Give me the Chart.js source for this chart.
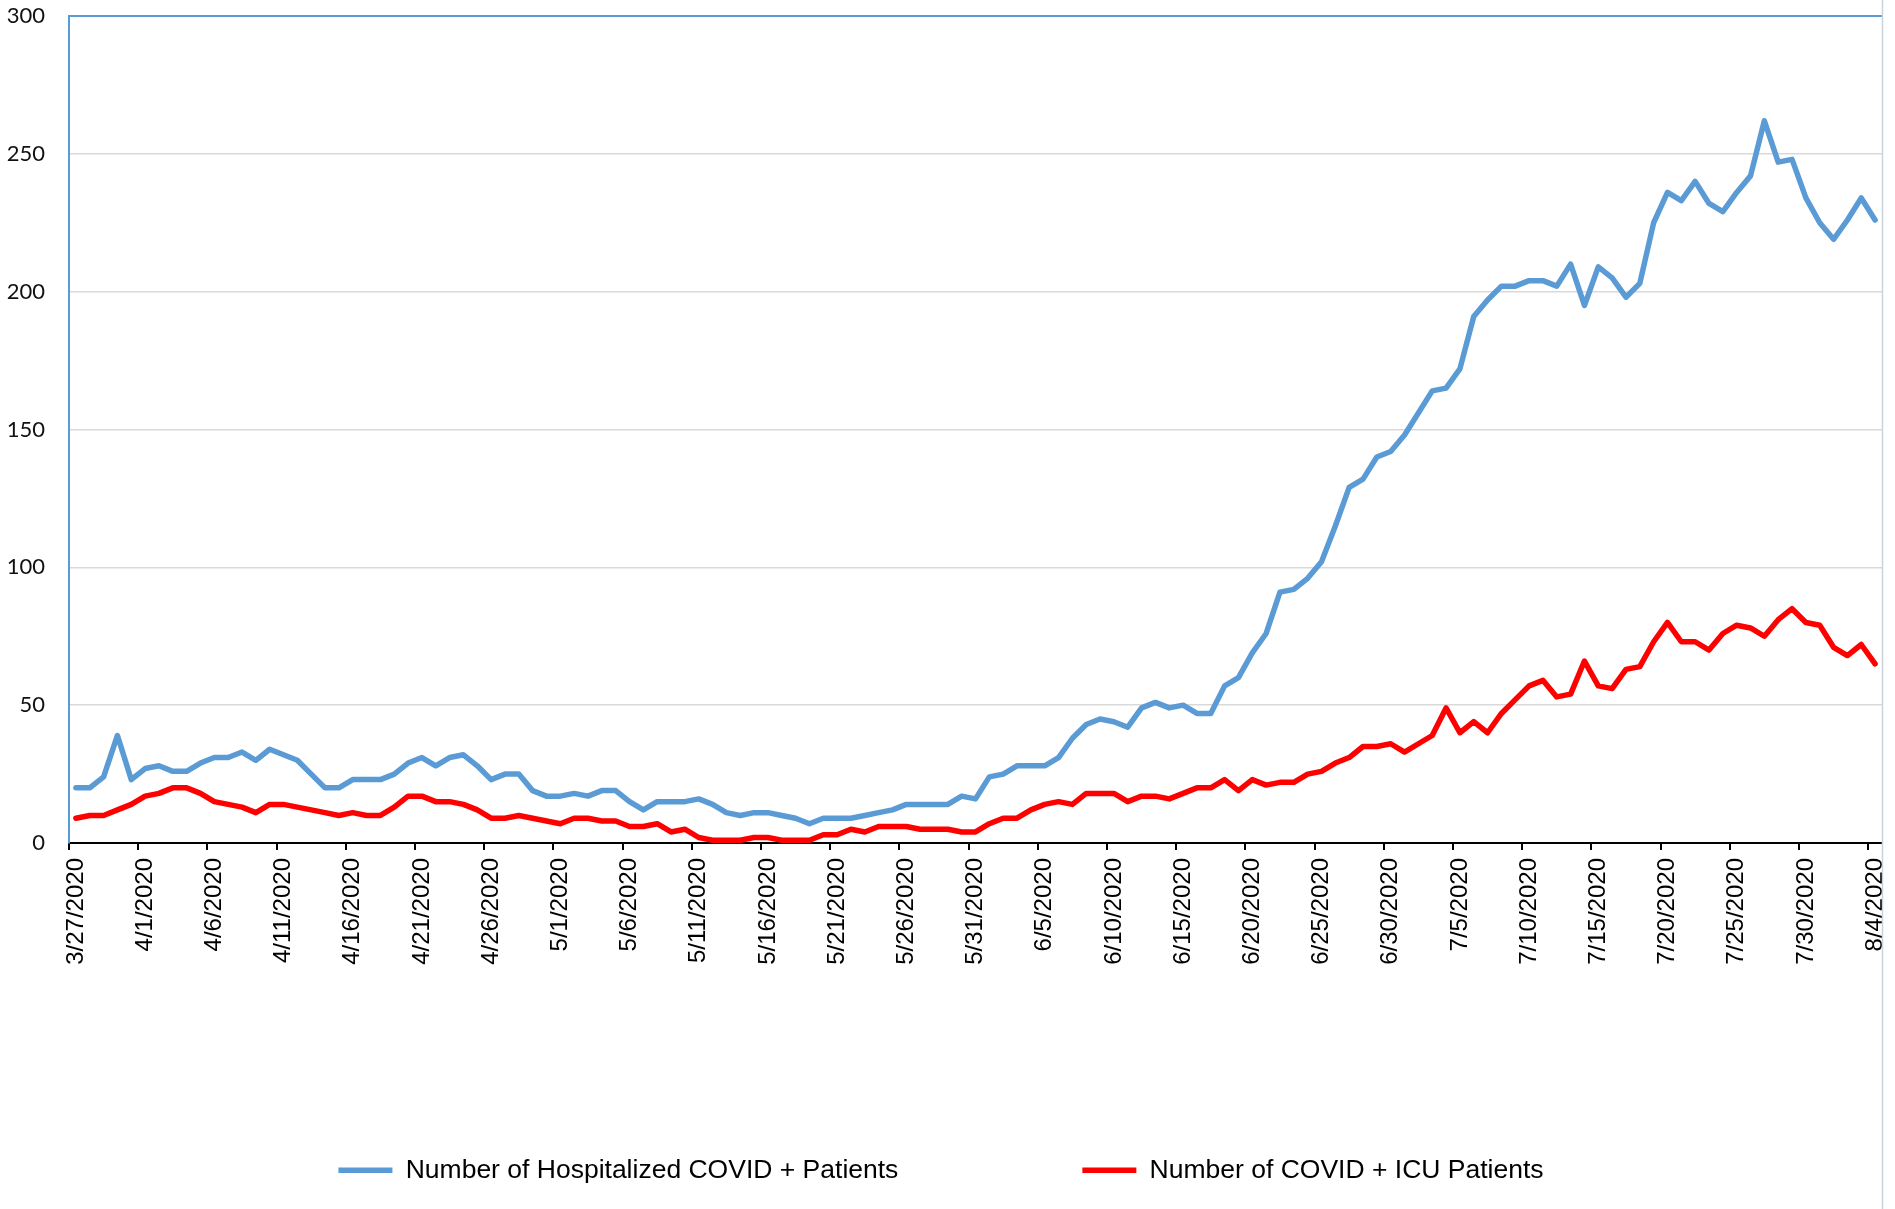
<!DOCTYPE html>
<html>
<head>
<meta charset="utf-8">
<title>COVID + patients</title>
<script src="https://cdn.jsdelivr.net/npm/chart.js@4.4.1/dist/chart.umd.min.js"></script>
<style>
  html, body { margin: 0; padding: 0; background: #fff; }
  #wrap { width: 1895px; height: 1209px; }
</style>
</head>
<body>
<div id="wrap"><canvas id="chart" width="1895" height="1209"></canvas></div>
<script>
// dias (categorias)
const dates = [
  '3/27/2020','3/28/2020','3/29/2020','3/30/2020','3/31/2020',
  '4/1/2020','4/2/2020','4/3/2020','4/4/2020','4/5/2020','4/6/2020','4/7/2020','4/8/2020','4/9/2020','4/10/2020',
  '4/11/2020','4/12/2020','4/13/2020','4/14/2020','4/15/2020','4/16/2020','4/17/2020','4/18/2020','4/19/2020','4/20/2020',
  '4/21/2020','4/22/2020','4/23/2020','4/24/2020','4/25/2020','4/26/2020','4/27/2020','4/28/2020','4/29/2020','4/30/2020',
  '5/1/2020','5/2/2020','5/3/2020','5/4/2020','5/5/2020','5/6/2020','5/7/2020','5/8/2020','5/9/2020','5/10/2020',
  '5/11/2020','5/12/2020','5/13/2020','5/14/2020','5/15/2020','5/16/2020','5/17/2020','5/18/2020','5/19/2020','5/20/2020',
  '5/21/2020','5/22/2020','5/23/2020','5/24/2020','5/25/2020','5/26/2020','5/27/2020','5/28/2020','5/29/2020','5/30/2020','5/31/2020',
  '6/1/2020','6/2/2020','6/3/2020','6/4/2020','6/5/2020','6/6/2020','6/7/2020','6/8/2020','6/9/2020','6/10/2020',
  '6/11/2020','6/12/2020','6/13/2020','6/14/2020','6/15/2020','6/16/2020','6/17/2020','6/18/2020','6/19/2020','6/20/2020',
  '6/21/2020','6/22/2020','6/23/2020','6/24/2020','6/25/2020','6/26/2020','6/27/2020','6/28/2020','6/29/2020','6/30/2020',
  '7/1/2020','7/2/2020','7/3/2020','7/4/2020','7/5/2020','7/6/2020','7/7/2020','7/8/2020','7/9/2020','7/10/2020',
  '7/11/2020','7/12/2020','7/13/2020','7/14/2020','7/15/2020','7/16/2020','7/17/2020','7/18/2020','7/19/2020','7/20/2020',
  '7/21/2020','7/22/2020','7/23/2020','7/24/2020','7/25/2020','7/26/2020','7/27/2020','7/28/2020','7/29/2020','7/30/2020','7/31/2020',
  '8/1/2020','8/2/2020','8/3/2020','8/4/2020'
];

// internados
const hospitalized = [
  20,20,24,39,23,
  27,28,26,26,29,31,31,33,30,34,
  32,30,25,20,20,23,23,23,25,29,
  31,28,31,32,28,23,25,25,19,17,
  17,18,17,19,19,15,12,15,15,15,
  16,14,11,10,11,11,10,9,7,9,
  9,9,10,11,12,14,14,14,14,17,16,
  24,25,28,28,28,31,38,43,45,44,
  42,49,51,49,50,47,47,57,60,69,
  76,91,92,96,102,115,129,132,140,142,
  148,156,164,165,172,191,197,202,202,204,
  204,202,210,195,209,205,198,203,225,236,
  233,240,232,229,236,242,262,247,248,234,225,
  219,226,234,226
];

// UTI
const icu = [
  9,10,10,12,14,
  17,18,20,20,18,15,14,13,11,14,
  14,13,12,11,10,11,10,10,13,17,
  17,15,15,14,12,9,9,10,9,8,
  7,9,9,8,8,6,6,7,4,5,
  2,1,1,1,2,2,1,1,1,3,
  3,5,4,6,6,6,5,5,5,4,4,
  7,9,9,12,14,15,14,18,18,18,
  15,17,17,16,18,20,20,23,19,23,
  21,22,22,25,26,29,31,35,35,36,
  33,36,39,49,40,44,40,47,52,57,
  59,53,54,66,57,56,63,64,73,80,
  73,73,70,76,79,78,75,81,85,80,79,
  71,68,72,65
];

const yTicks = [0, 50, 100, 150, 200, 250, 300];
const seriesNames = ['Number of Hospitalized COVID + Patients', 'Number of COVID + ICU Patients'];

const BLUE = '#5b9bd5';
const RED  = '#ff0000';
const ARIAL = "'Liberation Sans', Arial, sans-serif";

// moldura à direita (a imagem original é cortada ali)
const frame = {
  id: 'frame',
  afterDraw(chart){
    const { ctx, chartArea: a, width, height } = chart;
    ctx.save();
    ctx.fillStyle = '#fff';
    ctx.fillRect(a.right + 1, 0, width - a.right, height);
    ctx.strokeStyle = '#c9d3dd';
    ctx.lineWidth = 1.5;
    ctx.beginPath();
    ctx.moveTo(a.right + 0.5, 0);
    ctx.lineTo(a.right + 0.5, height);
    ctx.stroke();
    ctx.restore();
  }
};

new Chart(document.getElementById('chart'), {
  type: 'line',
  data: {
    labels: dates,
    datasets: [
      { label: seriesNames[0], data: hospitalized, borderColor: BLUE, backgroundColor: BLUE,
        borderWidth: 5.5, pointRadius: 0, tension: 0, borderJoinStyle: 'round', borderCapStyle: 'round', order: 1 },
      { label: seriesNames[1], data: icu, borderColor: RED, backgroundColor: RED,
        borderWidth: 5.5, pointRadius: 0, tension: 0, borderJoinStyle: 'round', borderCapStyle: 'round', order: 0 }
    ]
  },
  options: {
    responsive: false,
    animation: false,
    layout: { padding: { top: 16, right: 13, bottom: 15.5, left: 0 } },
    plugins: {
      tooltip: { enabled: false },
      legend: {
        position: 'bottom',
        labels: {
          usePointStyle: true,
          pointStyle: 'line',
          pointStyleWidth: 54,
          padding: 184,
          color: '#000',
          font: { family: ARIAL, size: 26.5 },
          sort: (a, b) => a.datasetIndex - b.datasetIndex
        }
      }
    },
    scales: {
      x: {
        offset: true,
        afterFit: s => { s.height = 130; s.paddingLeft = 0; s.paddingRight = 0; },
        grid: {
          offset: true,
          drawOnChartArea: false,
          drawTicks: true,
          tickLength: 7,
          lineWidth: 2,
          tickColor: c => (c.index % 5 === 0 ? '#000' : 'rgba(0,0,0,0)'),
          color: 'rgba(0,0,0,0)'
        },
        border: { color: '#000', width: 2 },
        ticks: {
          autoSkip: false,
          minRotation: 90,
          maxRotation: 90,
          padding: 8,
          color: '#000',
          font: { family: ARIAL, size: 24 },
          callback: (v, i) => (i % 5 === 0 ? dates[i] : '')
        }
      },
      y: {
        min: 0,
        max: 300,
        afterFit: s => { s.width = 69; s.paddingTop = 0; s.paddingBottom = 0; },
        afterBuildTicks: s => { s.ticks = yTicks.map(v => ({ value: v })); },
        grid: {
          drawTicks: false,
          color: c => (c.tick && c.tick.value === 300 ? BLUE : (c.tick && c.tick.value === 0 ? 'rgba(0,0,0,0)' : '#d9d9d9')),
          lineWidth: c => (c.tick && c.tick.value === 300 ? 2 : 1.5)
        },
        border: { color: BLUE, width: 2 },
        ticks: {
          padding: 24,
          color: '#111',
          font: { family: "Lato, 'Open Sans', sans-serif", size: 22 }
        }
      }
    }
  },
  plugins: [frame]
});
</script>
</body>
</html>
